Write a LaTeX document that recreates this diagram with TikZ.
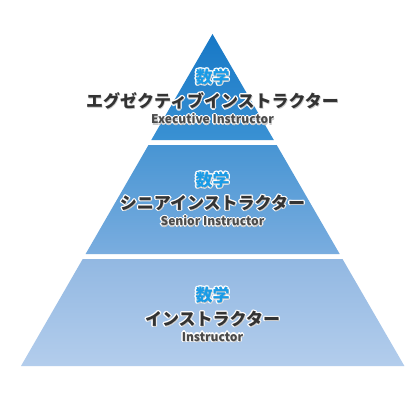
\documentclass[tikz,border=0pt]{standalone}
\usepackage{fontspec}
\newfontfamily\jp{Noto Sans CJK JP}
\usetikzlibrary{calc}
\definecolor{tA}{HTML}{1778C6}\definecolor{tB}{HTML}{3A91D3}
\definecolor{mA}{HTML}{4895D3}\definecolor{mB}{HTML}{7AADDF}
\definecolor{bA}{HTML}{92B8E2}\definecolor{bB}{HTML}{B3CDEC}
\definecolor{subj}{HTML}{1A9BE6}
\definecolor{jpc}{HTML}{333333}
\definecolor{enc}{HTML}{4A4A4A}
\tikzset{
  subjtxt/.style={inner sep=0pt, font=\jp\bfseries\fontsize{17}{20}\selectfont, text=subj},
  jptxt/.style={inner sep=0pt, font=\jp\bfseries\fontsize{17}{20}\selectfont, text=jpc},
  entxt/.style={inner sep=0pt, font=\jp\bfseries\fontsize{12}{14}\selectfont, text=enc},
}
\newcommand\halotext[4]{%
  \foreach \dx/\dy in {1/0,-1/0,0/1,0/-1,0.8/0.8,-0.8/0.8,0.8/-0.8,-0.8/-0.8,1.4/0,-1.4/0,0/1.4,0/-1.4}
    \node[#3, text=white] at ($(#2)+(\dx pt,\dy pt)$) {#4};
  \node[#3, text=black!60, opacity=0.35] at ($(#2)+(0.6pt,-1.2pt)$) {#4};
  \node[#3] (#1) at (#2) {#4};}
\begin{document}
\begin{tikzpicture}[x=1pt,y=1pt]
\useasboundingbox (0,0) rectangle (420,400);
\fill[white] (0,0) rectangle (420,400);
\shade[top color=tA, bottom color=tB] (212.5,366) -- (273.8,260) -- (151.3,260) -- cycle;
\shade[top color=mA, bottom color=mB] (148.5,255) -- (276.7,255) -- (339.7,146) -- (85.6,146) -- cycle;
\shade[top color=bA, bottom color=bB] (82.7,141) -- (342.5,141) -- (404.4,34) -- (21,34) -- cycle;
\coordinate (p1) at (212.5,323);
\coordinate (p2) at (212.5,299);
\coordinate (p3) at (212.5,281);
\coordinate (q1) at (212.5,220);
\coordinate (q2) at (212.5,197);
\coordinate (q3) at (212.5,179);
\coordinate (r1) at (212.5,105);
\coordinate (r2) at (212.5,81);
\coordinate (r3) at (212.5,63);
\halotext{s1}{p1}{subjtxt}{数学}
\halotext{j1}{p2}{jptxt}{エグゼクティブインストラクター}
\halotext{e1}{p3}{entxt}{Executive Instructor}
\halotext{s2}{q1}{subjtxt}{数学}
\halotext{j2}{q2}{jptxt}{シニアインストラクター}
\halotext{e2}{q3}{entxt}{Senior Instructor}
\halotext{s3}{r1}{subjtxt}{数学}
\halotext{j3}{r2}{jptxt}{インストラクター}
\halotext{e3}{r3}{entxt}{Instructor}
\end{tikzpicture}
\end{document}
